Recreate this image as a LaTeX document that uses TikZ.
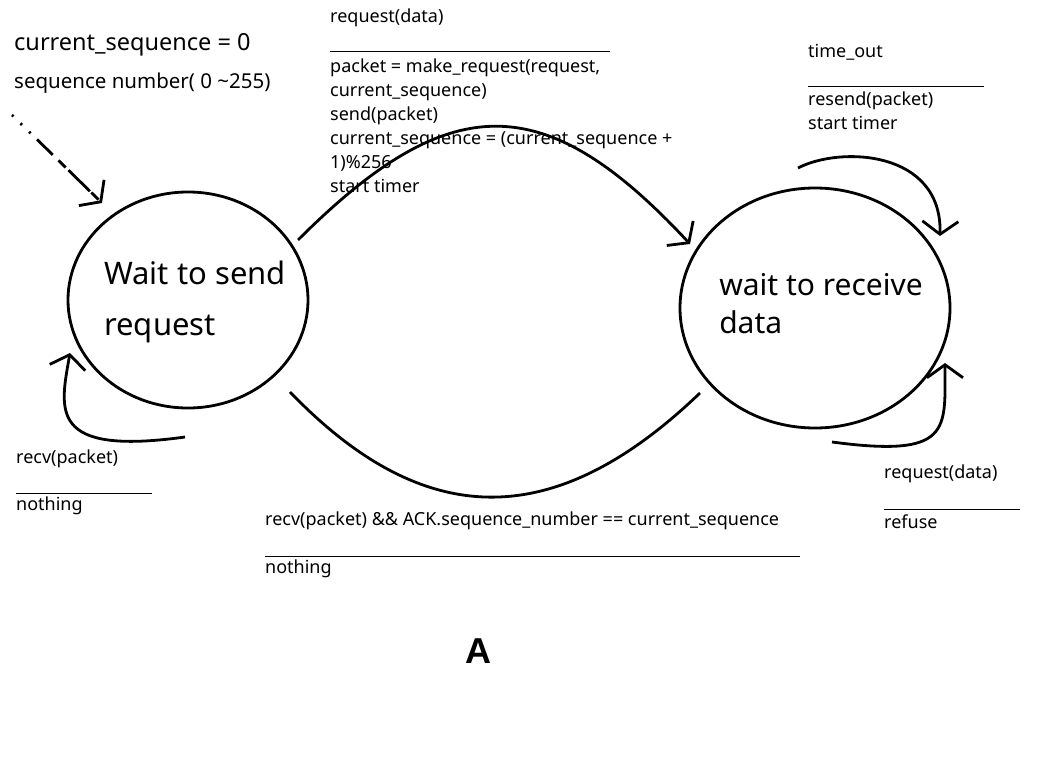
\documentclass[tikz,border=0pt]{standalone}
\usepackage{fontspec}
\setmainfont{Noto Sans}
\newfontfamily\capfont{Liberation Sans}
\usetikzlibrary{arrows.meta,shapes.geometric}

\begin{document}
\begin{tikzpicture}[x=1pt, y=-1pt,
        state/.style={shape=ellipse, draw, line width=2.8pt, inner sep=0pt},
        lbl/.style={anchor=west, align=left, inner sep=0pt, font=\fontsize{18}{24}\selectfont},
        edge/.style={line width=2.8pt, -{Straight Barb[length=13pt, width=36pt, line width=2.8pt]}},
        bar/.style={line width=1pt}]
        \useasboundingbox (0, 0) rectangle (1042, 768);
        % states
        \node[state, minimum width=240pt, minimum height=216pt,
            label={[align=left, font=\fontsize{31}{51}\selectfont, xshift=7pt, yshift=-2pt]center:Wait to send\\request}] (S1) at (188, 300) {};
        \node[state, minimum width=270pt, minimum height=240pt,
            label={[align=left, font=\fontsize{30}{38}\selectfont, xshift=6pt, yshift=4pt]center:wait to receive\\data}] (S2) at (815, 308) {};
        % start
        \node[lbl, font=\fontsize{23.5}{26}\selectfont] (C1) at (14, 45) {current\_sequence = 0};
        \node[lbl, font=\fontsize{20.5}{24}\selectfont] (C2) at (14, 83) {sequence number( 0 \textasciitilde255)};
        \coordinate (D0) at (12, 115);
        \coordinate (D1) at (102, 203);
        \draw[edge, dash pattern=on 2pt off 10pt on 2pt off 10pt on 2pt off 9pt on 22pt off 8pt on 10pt off 4pt on 30pt] (D0) to (D1);
        % top edge
        \coordinate (T1) at (298, 240);
        \coordinate (T2) at (690, 244);
        \draw[edge] (T1) .. controls (450, 88) and (545, 88) .. (T2);
        \node[lbl] (L1) at (330, 18) {request(data)};
        \coordinate (L1a) at (330, 52);
        \coordinate (L1b) at (610, 52);
        \draw[bar] (L1a) to (L1b);
        \node[lbl, anchor=north west] (L2) at (330, 59) {packet = make\_request(request,\\current\_sequence)\\send(packet)\\current\_sequence = (current\_sequence +\\1)\%256\\start timer};
        % bottom edge
        \coordinate (B1) at (290, 392);
        \coordinate (B2) at (700, 393);
        \draw[line width=2.8pt] (B1) .. controls (425, 532) and (555, 532) .. (B2);
        \node[lbl] (L3) at (265, 521) {recv(packet) \&\& ACK.sequence\_number == current\_sequence};
        \coordinate (L3a) at (265, 556);
        \coordinate (L3b) at (800, 556);
        \draw[bar] (L3a) to (L3b);
        \node[lbl] (L4) at (265, 569) {nothing};
        % self loops
        \coordinate (R1) at (798, 168);
        \coordinate (R2) at (940, 236);
        \draw[edge] (R1) .. controls (840, 146) and (942, 150) .. (R2);
        \node[lbl] (L5) at (808, 52) {time\_out};
        \coordinate (L5a) at (808, 87);
        \coordinate (L5b) at (984, 87);
        \draw[bar] (L5a) to (L5b);
        \node[lbl, anchor=north west] (L6) at (808, 92) {resend(packet)\\start timer};
        \coordinate (R3) at (832, 442);
        \coordinate (R4) at (945, 363);
        \draw[edge] (R3) .. controls (952, 458) and (945, 430) .. (R4);
        \node[lbl] (L7) at (884, 474) {request(data)};
        \coordinate (L7a) at (884, 509);
        \coordinate (L7b) at (1020, 509);
        \draw[bar] (L7a) to (L7b);
        \node[lbl] (L8) at (884, 522) {refuse};
        \coordinate (Q1) at (185, 437);
        \coordinate (Q2) at (70, 353);
        \draw[edge] (Q1) .. controls (48, 456) and (60, 410) .. (Q2);
        \node[lbl] (L9) at (16, 459) {recv(packet)};
        \coordinate (L9a) at (16, 493);
        \coordinate (L9b) at (152, 493);
        \draw[bar] (L9a) to (L9b);
        \node[lbl] (L10) at (16, 506) {nothing};
        % caption
        \node[font=\fontsize{36}{40}\capfont\bfseries] (A) at (478, 651) {A};
    \end{tikzpicture}
\end{document}
